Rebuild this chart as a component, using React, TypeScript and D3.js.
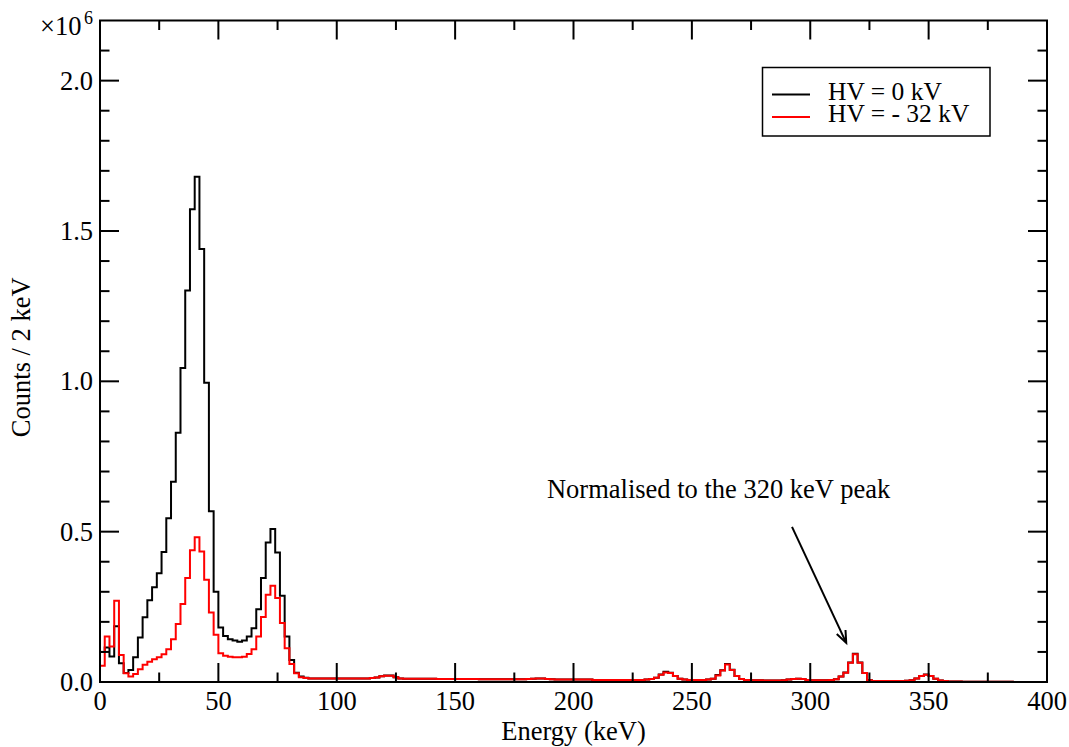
import React from "react";
import * as d3 from "d3";

// ---- data (counts per 2 keV, in units of 1e6) ----
const BIN_WIDTH = 2; // keV
const seriesLabels = ["HV = 0 kV", "HV = - 32 kV"];
const seriesColors = ["#000000", "#ff0000"];

// bins 0..86 keV (bin start energies 0,2,4,...,86)
const blackLow = [
  0.100, 0.115, 0.085, 0.185, 0.062, 0.030, 0.040, 0.082, 0.148, 0.215,
  0.272, 0.315, 0.362, 0.432, 0.545, 0.666, 0.829, 1.044, 1.302, 1.572,
  1.680, 1.440, 0.995, 0.568, 0.300, 0.181, 0.153, 0.142, 0.138, 0.134,
  0.138, 0.151, 0.179, 0.242, 0.346, 0.464, 0.509, 0.431, 0.287, 0.151,
  0.073, 0.031, 0.018, 0.014,
];
const redLow = [
  0.054, 0.151, 0.118, 0.270, 0.090, 0.029, 0.018, 0.027, 0.042, 0.057,
  0.067, 0.076, 0.082, 0.092, 0.109, 0.142, 0.193, 0.259, 0.346, 0.438,
  0.481, 0.434, 0.340, 0.231, 0.157, 0.096, 0.087, 0.084, 0.082, 0.082,
  0.084, 0.093, 0.109, 0.151, 0.216, 0.290, 0.320, 0.279, 0.196, 0.112,
  0.060, 0.029, 0.016, 0.013,
];
// bins 88..384 keV
const blackTail = [
  0.012, 0.012, 0.012, 0.012, 0.012, 0.012, 0.012, 0.012, 0.012, 0.012,
  0.012, 0.012, 0.012, 0.013, 0.015, 0.019, 0.022, 0.022, 0.016, 0.012,
  0.011, 0.011, 0.011, 0.011, 0.011, 0.011, 0.011, 0.010, 0.010, 0.010,
  0.010, 0.010, 0.010, 0.010, 0.010, 0.010, 0.009, 0.009, 0.009, 0.009,
  0.009, 0.009, 0.009, 0.009, 0.009, 0.009, 0.010, 0.011, 0.012, 0.012,
  0.010, 0.009, 0.008, 0.008, 0.008, 0.008, 0.008, 0.008, 0.008, 0.008,
  0.007, 0.007, 0.007, 0.007, 0.007, 0.007, 0.007, 0.007, 0.007, 0.007,
  0.007, 0.008, 0.010, 0.014, 0.025, 0.034, 0.031, 0.020, 0.011, 0.008,
  0.007, 0.007, 0.007, 0.007, 0.008, 0.011, 0.023, 0.039, 0.060, 0.041,
  0.020, 0.010, 0.007, 0.006, 0.006, 0.006, 0.005, 0.005, 0.005, 0.005,
  0.006, 0.008, 0.010, 0.011, 0.010, 0.007, 0.006, 0.006, 0.006, 0.006,
  0.007, 0.009, 0.018, 0.032, 0.065, 0.094, 0.065, 0.030, 0.006, 0.003,
  0.003, 0.003, 0.003, 0.003, 0.003, 0.003, 0.004, 0.006, 0.012, 0.020,
  0.025, 0.020, 0.011, 0.005, 0.003, 0.002, 0.002, 0.002, 0.001, 0.001,
  0.001, 0.001, 0.001, 0.001, 0.001, 0.001, 0.001, 0.001, 0.001,
];
const redTail = [
  0.012, 0.012, 0.012, 0.012, 0.012, 0.012, 0.012, 0.012, 0.012, 0.012,
  0.012, 0.012, 0.012, 0.013, 0.015, 0.019, 0.021, 0.021, 0.016, 0.012,
  0.011, 0.011, 0.011, 0.011, 0.011, 0.011, 0.011, 0.010, 0.010, 0.010,
  0.010, 0.010, 0.010, 0.010, 0.010, 0.010, 0.009, 0.009, 0.009, 0.009,
  0.009, 0.009, 0.009, 0.009, 0.009, 0.009, 0.010, 0.011, 0.012, 0.012,
  0.010, 0.009, 0.008, 0.008, 0.008, 0.008, 0.008, 0.008, 0.008, 0.008,
  0.007, 0.007, 0.007, 0.007, 0.007, 0.007, 0.007, 0.007, 0.007, 0.007,
  0.007, 0.008, 0.010, 0.014, 0.024, 0.032, 0.030, 0.020, 0.011, 0.008,
  0.007, 0.007, 0.007, 0.007, 0.008, 0.011, 0.022, 0.038, 0.058, 0.040,
  0.020, 0.010, 0.007, 0.006, 0.006, 0.006, 0.005, 0.005, 0.005, 0.005,
  0.006, 0.008, 0.010, 0.011, 0.010, 0.007, 0.006, 0.006, 0.006, 0.006,
  0.007, 0.009, 0.018, 0.031, 0.064, 0.092, 0.064, 0.030, 0.006, 0.003,
  0.003, 0.003, 0.003, 0.003, 0.003, 0.003, 0.004, 0.006, 0.012, 0.020,
  0.024, 0.020, 0.011, 0.005, 0.003, 0.002, 0.002, 0.002, 0.001, 0.001,
  0.001, 0.001, 0.001, 0.001, 0.001, 0.001, 0.001, 0.001, 0.001,
];

const xMajorTicks = [0, 50, 100, 150, 200, 250, 300, 350, 400];
const xMinorTicks = [25, 75, 125, 175, 225, 275, 325, 375];
const yMajorTicks = [0, 0.5, 1.0, 1.5, 2.0];
const yMinorTicks = [0.1, 0.2, 0.3, 0.4, 0.6, 0.7, 0.8, 0.9, 1.1, 1.2, 1.3, 1.4, 1.6, 1.7, 1.8, 1.9, 2.1];

const xTitle = "Energy (keV)";
const yTitle = "Counts / 2 keV";
const annotationText = "Normalised to the 320 keV peak";
// annotation anchors in data coordinates (keV, 1e6 counts)
const annotationTextPos = [188.8, 0.612];
const arrowFrom = [292.3, 0.516];
const arrowTo = [315.2, 0.13];

const W = 1069;
const H = 747;
const FONT = "'Liberation Serif', 'Times New Roman', serif";
const FS = 26.5;

export default function App() {
  const x = d3.scaleLinear().domain([0, 400]).range([100, 1047]);
  const y = d3.scaleLinear().domain([0, 2.2]).range([682, 20.5]);

  const toPoints = (vals: number[]) => {
    const pts: [number, number][] = vals.map((v, i) => [i * BIN_WIDTH, v]);
    pts.push([vals.length * BIN_WIDTH, vals[vals.length - 1]]);
    return pts;
  };
  const series = [blackLow.concat(blackTail), redLow.concat(redTail)].map(toPoints);

  const line = d3
    .line<[number, number]>()
    .x((d) => x(d[0]))
    .y((d) => y(d[1]))
    .curve(d3.curveStepAfter);

  const [x0, x1] = x.range();
  const [yb, yt] = y.range();
  const major = 19;
  const minor = 9.5;

  // arrow
  const ax1 = x(arrowFrom[0]), ay1 = y(arrowFrom[1]);
  const ax2 = x(arrowTo[0]), ay2 = y(arrowTo[1]);
  const ang = Math.atan2(ay2 - ay1, ax2 - ax1);
  const hl = 13, ha = 0.38;
  const w1 = [ax2 - hl * Math.cos(ang - ha), ay2 - hl * Math.sin(ang - ha)];
  const w2 = [ax2 - hl * Math.cos(ang + ha), ay2 - hl * Math.sin(ang + ha)];

  return (
    <svg
      width={W}
      height={H}
      style={{ position: "absolute", left: 0, top: 0, background: "#fff" }}
      fontFamily={FONT}
    >
      <rect x={0} y={0} width={W} height={H} fill="#fff" />
      <defs>
        <clipPath id="plotClip">
          <rect x={x0} y={yt} width={x1 - x0} height={yb - yt} />
        </clipPath>
      </defs>

      {/* histograms */}
      <g clipPath="url(#plotClip)">
        {series.map((pts, i) => (
          <path
            key={i}
            d={line(pts) || ""}
            fill="none"
            stroke={seriesColors[i]}
            strokeWidth={2}
            strokeLinejoin="miter"
          />
        ))}
      </g>

      {/* frame */}
      <rect x={x0} y={yt} width={x1 - x0} height={yb - yt} fill="none" stroke="#000" strokeWidth={2} />

      {/* x ticks */}
      {xMajorTicks.map((t) => (
        <g key={"xM" + t}>
          <line x1={x(t)} x2={x(t)} y1={yb} y2={yb - major} stroke="#000" strokeWidth={2} />
          <line x1={x(t)} x2={x(t)} y1={yt} y2={yt + major} stroke="#000" strokeWidth={2} />
          <text x={x(t)} y={710} textAnchor="middle" fontSize={FS}>
            {t}
          </text>
        </g>
      ))}
      {xMinorTicks.map((t) => (
        <g key={"xm" + t}>
          <line x1={x(t)} x2={x(t)} y1={yb} y2={yb - minor} stroke="#000" strokeWidth={2} />
          <line x1={x(t)} x2={x(t)} y1={yt} y2={yt + minor} stroke="#000" strokeWidth={2} />
        </g>
      ))}

      {/* y ticks */}
      {yMajorTicks.map((t) => (
        <g key={"yM" + t}>
          <line x1={x0} x2={x0 + major} y1={y(t)} y2={y(t)} stroke="#000" strokeWidth={2} />
          <line x1={x1} x2={x1 - major} y1={y(t)} y2={y(t)} stroke="#000" strokeWidth={2} />
          <text x={93} y={y(t) + 9} textAnchor="end" fontSize={FS}>
            {t.toFixed(1)}
          </text>
        </g>
      ))}
      {yMinorTicks.map((t) => (
        <g key={"ym" + t}>
          <line x1={x0} x2={x0 + minor} y1={y(t)} y2={y(t)} stroke="#000" strokeWidth={2} />
          <line x1={x1} x2={x1 - minor} y1={y(t)} y2={y(t)} stroke="#000" strokeWidth={2} />
        </g>
      ))}

      {/* multiplier */}
      <text x={40} y={35} fontSize={FS}>
        ×10
      </text>
      <text x={84} y={24} fontSize={18}>
        6
      </text>

      {/* axis titles */}
      <text x={(x0 + x1) / 2} y={740} textAnchor="middle" fontSize={FS}>
        {xTitle}
      </text>
      <text
        transform={`translate(30, ${(yt + yb) / 2 + 6}) rotate(-90)`}
        textAnchor="middle"
        fontSize={FS}
      >
        {yTitle}
      </text>

      {/* legend */}
      <rect x={762.5} y={67.5} width={227.5} height={68.5} fill="#fff" stroke="#000" strokeWidth={1.5} />
      {seriesLabels.map((lab, i) => (
        <g key={lab}>
          <line x1={772} x2={810} y1={94.5 + i * 22.5} y2={94.5 + i * 22.5} stroke={seriesColors[i]} strokeWidth={2} />
          <text x={828} y={99.5 + i * 22.5} fontSize={25.5}>
            {lab}
          </text>
        </g>
      ))}

      {/* annotation */}
      <text x={x(annotationTextPos[0])} y={y(annotationTextPos[1])} fontSize={FS}>
        {annotationText}
      </text>
      <line x1={ax1} y1={ay1} x2={ax2} y2={ay2} stroke="#000" strokeWidth={2} />
      <polyline
        points={`${w1[0]},${w1[1]} ${ax2},${ay2} ${w2[0]},${w2[1]}`}
        fill="none"
        stroke="#000"
        strokeWidth={2}
      />
    </svg>
  );
}
